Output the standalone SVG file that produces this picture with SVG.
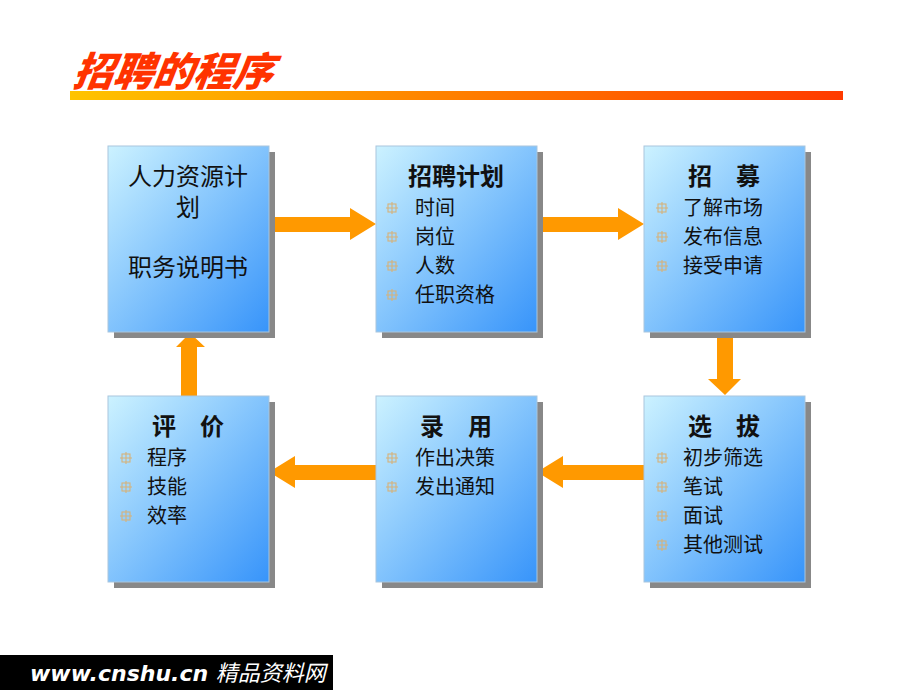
<svg xmlns="http://www.w3.org/2000/svg" width="920" height="690" viewBox="0 0 920 690">
<defs>
<linearGradient id="boxg" x1="0" y1="0" x2="1" y2="1">
<stop offset="0" stop-color="#ccf2ff"/>
<stop offset="1" stop-color="#3794fa"/>
</linearGradient>
<linearGradient id="barg" x1="0" y1="0" x2="1" y2="0">
<stop offset="0" stop-color="#ffc400"/>
<stop offset="1" stop-color="#ff3a00"/>
</linearGradient>
<g id="bul">
<rect x="-4" y="-4" width="8" height="8" fill="none" stroke="#d6b27a" stroke-width="1.1"/>
<path d="M-6 0H6M0 -6V6" stroke="#d6b27a" stroke-width="1.1"/>
</g>
</defs>
<style>
.sh{fill:#888888}
.bx{fill:url(#boxg);stroke:#a9c6de;stroke-width:1}
.t{font-family:"Noto Sans CJK SC","Noto Sans",sans-serif;fill:#111}
.h{font-size:24px;font-weight:bold;text-anchor:middle}
.i{font-size:20px}
.b1{font-size:24px;text-anchor:middle}
.ar{fill:#ff9900}
</style>
<rect width="920" height="690" fill="#ffffff"/>
<text x="72" y="86" font-family="'Noto Sans CJK SC',sans-serif" font-size="40" font-weight="900" font-style="italic" fill="#ff3300" transform="skewX(-8) translate(12,0)">招聘的程序</text>
<rect x="70" y="91" width="773" height="9" fill="url(#barg)"/>

<g id="connectors">
<path class="ar" d="M268 217H350V208L376 224L350 240V232H268Z"/>
<path class="ar" d="M537 217H618V208L644 224L618 240V232H537Z"/>
<path class="ar" d="M717 332H733V379H741L725 395L708 379H717Z"/>
<path class="ar" d="M644 465H563V456L537 472L563 488V480H644Z"/>
<path class="ar" d="M376 465H295V456L269 472L295 488V480H376Z"/>
<path class="ar" d="M181 396V347H176L190 333L205 347H197V396Z"/>
</g>

<g id="n1">
<rect class="sh" x="114" y="152" width="161" height="186"/>
<rect class="bx" x="108" y="146" width="161" height="186"/>
<text class="t b1" x="188" y="185"><tspan x="188" y="185">人力资源计</tspan><tspan x="188" y="216">划</tspan></text>
<text class="t b1" x="188" y="276">职务说明书</text>
</g>

<g id="n2">
<rect class="sh" x="382" y="152" width="161" height="186"/>
<rect class="bx" x="376" y="146" width="161" height="186"/>
<text class="t h" x="456" y="185">招聘计划</text>
<use href="#bul" x="392" y="208"/>
<text class="t i" x="415" y="215">时间</text>
<use href="#bul" x="392" y="237"/>
<text class="t i" x="415" y="244">岗位</text>
<use href="#bul" x="392" y="266"/>
<text class="t i" x="415" y="273">人数</text>
<use href="#bul" x="392" y="295"/>
<text class="t i" x="415" y="302">任职资格</text>
</g>

<g id="n3">
<rect class="sh" x="650" y="152" width="161" height="186"/>
<rect class="bx" x="644" y="146" width="161" height="186"/>
<text class="t h" x="724" y="185">招　募</text>
<use href="#bul" x="662" y="208"/>
<text class="t i" x="683" y="215">了解市场</text>
<use href="#bul" x="662" y="237"/>
<text class="t i" x="683" y="244">发布信息</text>
<use href="#bul" x="662" y="266"/>
<text class="t i" x="683" y="273">接受申请</text>
</g>

<g id="n4">
<rect class="sh" x="650" y="402" width="161" height="186"/>
<rect class="bx" x="644" y="396" width="161" height="186"/>
<text class="t h" x="724" y="435">选　拔</text>
<use href="#bul" x="662" y="458"/>
<text class="t i" x="683" y="465">初步筛选</text>
<use href="#bul" x="662" y="487"/>
<text class="t i" x="683" y="494">笔试</text>
<use href="#bul" x="662" y="516"/>
<text class="t i" x="683" y="523">面试</text>
<use href="#bul" x="662" y="545"/>
<text class="t i" x="683" y="552">其他测试</text>
</g>

<g id="n5">
<rect class="sh" x="382" y="402" width="161" height="186"/>
<rect class="bx" x="376" y="396" width="161" height="186"/>
<text class="t h" x="456" y="435">录　用</text>
<use href="#bul" x="392" y="458"/>
<text class="t i" x="415" y="465">作出决策</text>
<use href="#bul" x="392" y="487"/>
<text class="t i" x="415" y="494">发出通知</text>
</g>

<g id="n6">
<rect class="sh" x="114" y="402" width="161" height="186"/>
<rect class="bx" x="108" y="396" width="161" height="186"/>
<text class="t h" x="188" y="435">评　价</text>
<use href="#bul" x="126" y="458"/>
<text class="t i" x="147" y="465">程序</text>
<use href="#bul" x="126" y="487"/>
<text class="t i" x="147" y="494">技能</text>
<use href="#bul" x="126" y="516"/>
<text class="t i" x="147" y="523">效率</text>
</g>

<rect x="0" y="655" width="333" height="35" fill="#000"/>
<text x="30" y="681" font-family="'DejaVu Sans','Noto Sans CJK SC',sans-serif" font-size="22" font-weight="bold" font-style="italic" fill="#fff">www.cnshu.cn <tspan font-family="'Noto Sans CJK SC',sans-serif" font-weight="normal">精品资料网</tspan></text>
</svg>
